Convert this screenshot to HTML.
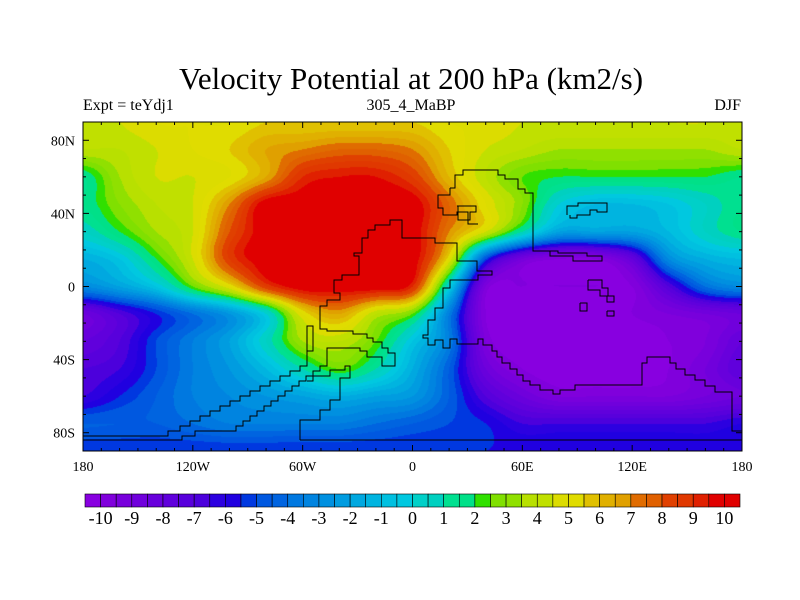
<!DOCTYPE html>
<html><head><meta charset="utf-8">
<style>
body{margin:0;background:#fff;}
#wrap{position:relative;width:800px;height:600px;background:#fff;overflow:hidden;font-family:"Liberation Serif",serif;}
.t{position:absolute;white-space:nowrap;color:#000;}
</style></head>
<body>
<div id="wrap">
<div class="t" style="left:0;width:822px;text-align:center;top:61px;font-size:31px;">Velocity Potential at 200 hPa (km2/s)</div>
<div class="t" style="left:83px;top:97px;font-size:16px;">Expt = teYdj1</div>
<div class="t" style="left:311px;width:200px;text-align:center;top:97px;font-size:16px;">305_4_MaBP</div>
<div class="t" style="left:641px;width:100px;text-align:right;top:97px;font-size:16px;">DJF</div>
<canvas id="map" width="659" height="329" style="position:absolute;left:83px;top:122px;"></canvas>
<svg id="ov" width="800" height="600" style="position:absolute;left:0;top:0;"></svg>
</div>
<script>
const lons=[-180,-160,-140,-120,-100,-80,-60,-40,-20,0,20,40,60,80,100,120,140,160,180];
const lats=[90,75,60,45,30,15,0,-15,-30,-45,-60,-75,-90];
const row90=[4,4.5,5,5,5,5.5,5.5,5.5,5.5,5.5,5,5,4.5,4.5,4.5,4.5,4.5,4.5,4];
const row75=[4,4,4.5,5,5.5,6.5,7,7.5,7.5,7,5.5,4.5,4,3.5,3.5,3.5,3.5,3.5,4];
const row60=[1.5,3.5,4.5,4.5,5,6.5,9,9.5,9.5,8.5,6,4,2.5,2,2,2,2,2,1.5];
const row45=[1.5,3,4,4.5,7,10,10,10,10,10,7.5,5,3,0,-1,-1,-0.5,0.5,1.5];
const row30=[0.5,2,3.5,4.5,8,10,10,10,10,10,7,4.5,1,-2,-2,-2,-1,0.5,1.5];
const row15=[-1.5,-0.5,2,4.5,8.5,10,10,10,10,10,5,-5,-9,-10,-10,-8,-3,-1.5,-1];
const row0=[-3,-2,-0.5,2.5,5,8.5,10,10,10,9,0,-9.5,-10,-10,-10,-10,-7,-4,-3];
const rowS15=[-8.5,-7,-5.5,-4,-2.5,0,5,6.5,4,2.5,-3.5,-10,-10.5,-10.5,-10.5,-10,-9.5,-9,-8.5];
const rowS30=[-8,-7,-5,-3.5,-2,0.5,3.5,4,2.5,-0.5,-3.5,-9.5,-10.5,-10.5,-10.5,-10.5,-10,-9.5,-8];
const rowS45=[-7,-6.5,-5,-3.5,-2.5,-1,1,2.5,1,-1.5,-4.5,-8.5,-10,-10.5,-10.5,-10.5,-10,-9,-7.5];
const rowS60=[-6.5,-5.5,-4.5,-3.5,-3,-2.5,-2,-1.5,-2,-2.5,-4.5,-7,-8.5,-9.5,-9.5,-9.5,-9.5,-9,-8.5];
const rowS75=[-4.5,-4.5,-4.5,-4,-3.5,-3.5,-3.5,-3.5,-4,-4.5,-5,-5.5,-6.5,-6.5,-6.5,-6.5,-6.5,-6.5,-6];
const rowS90=[-5.5,-5.5,-5.5,-5.5,-5.5,-5.5,-5.5,-5.5,-5.5,-5.5,-5.5,-5.5,-5.5,-5.5,-5.5,-5.5,-5.5,-5.5,-5.5];
const grid=[row90,row75,row60,row45,row30,row15,row0,rowS15,rowS30,rowS45,rowS60,rowS75,rowS90];
const levels=[];for(let i=0;i<=40;i++)levels.push(-10+i*0.5);
const palette=["#8800e0","#8000dc","#7800dc","#7000dc","#6800dc","#6000dc","#5800dc","#4c00dc","#2c00e0","#2000e0","#0038e0","#0058e0","#0064e0","#0078e0","#0084e0","#0090e0","#009ce0","#00a8e0","#00b4e0","#00c0e0","#00c8e0","#00d0c8","#00d0c0","#00e090","#00e088","#30e000","#80e000","#90e000","#b8e000","#c0e000","#dcdc00","#e0dc00","#e0c000","#e0b000","#e0a000","#e06c00","#e06000","#e04000","#e03800","#e02000","#e00000","#e00000"];
const cbTicks=[-10,-9,-8,-7,-6,-5,-4,-3,-2,-1,0,1,2,3,4,5,6,7,8,9,10];
const lonTicks=[-180,-120,-60,0,60,120,180];
const lonLabels=["180","120W","60W","0","60E","120E","180"];
const latTicks=[80,40,0,-40,-80];
const latLabels=["80N","40N","0","40S","80S"];

const X0=83,X1=742,Y0=122,Y1=451;
const xOf=lon=>X0+(lon+180)/360*(X1-X0);
const yOf=lat=>Y0+(90-lat)/180*(Y1-Y0);
function cr(p0,p1,p2,p3,t){return 0.5*((2*p1)+(-p0+p2)*t+(2*p0-5*p1+4*p2-p3)*t*t+(-p0+3*p1-3*p2+p3)*t*t*t);}
function val(lon,lat){
 const fi=(lon-lons[0])/(lons[1]-lons[0]);const fj=(lats[0]-lat)/(lats[0]-lats[1]);
 const i=Math.min(Math.floor(fi),lons.length-2),j=Math.min(Math.floor(fj),lats.length-2);
 const tx=fi-i,ty=fj-j;const ci=k=>Math.max(0,Math.min(lons.length-1,k));const cj=k=>Math.max(0,Math.min(lats.length-1,k));
 const r=[];for(let m=-1;m<=2;m++){const g=grid[cj(j+m)];r.push(cr(g[ci(i-1)],g[ci(i)],g[ci(i+1)],g[ci(i+2)],tx));}
 return cr(r[0],r[1],r[2],r[3],ty);
}
function colorOf(v){let k=0;while(k<levels.length&&v>=levels[k])k++;return palette[k];}
const cv=document.getElementById('map');const ctx=cv.getContext('2d');
const W=cv.width,H=cv.height;
for(let py=0;py<H;py++){for(let px=0;px<W;px++){
 const lon=-180+(px+0.5)/W*360,lat=90-(py+0.5)/H*180;
 ctx.fillStyle=colorOf(val(lon,lat));ctx.fillRect(px,py,1,1);}}

const NS='http://www.w3.org/2000/svg';const svg=document.getElementById('ov');
function mk(tag,at){const e=document.createElementNS(NS,tag);for(const k in at)e.setAttribute(k,at[k]);svg.appendChild(e);return e;}
const coasts=[
"420,238 402,238 402,220 390,220 390,225 375,225 375,230 368,230 368,238 362,238 362,253 354,253 354,256 359,256 359,275 342,275 342,280 334,280 334,293 340,293 340,300 327,300 327,306 320,306 320,329 327,329 327,331 353,331 353,334 367,334 367,338 373,338 373,342 382,342 382,348 388,348 388,353 395,353 395,366 382,366 382,357 367,357 367,351 360,351 360,348 327,348 327,366 320,366 320,371 313,371 313,376 306,376 306,381 299,381 299,386 292,386 292,391 285,391 285,396 278,396 278,401 271,401 271,406 264,406 264,411 257,411 257,416 250,416 250,421 243,421 243,426 236,426 236,431 195,431 195,436 182,436 182,440 83,440",
"83,431 83,436 168,436 168,431 180,431 180,426 190,426 190,421 200,421 200,416 210,416 210,411 220,411 220,406 230,406 230,401 240,401 240,396 250,396 250,391 260,391 260,386 270,386 270,381 280,381 280,376 290,376 290,371 300,371 300,366 307,366 307,351 313,351 313,326 307,326 307,351",
"307,381 313,381 313,376 330,376 330,370 345,370 345,366 350,366 350,378 340,378 340,400 330,400 330,410 320,410 320,420 300,420 300,430 300,440",
"300,440 742,440",
"420,238 435,238 435,243 457,243 457,261 477,261 477,271 492,271 492,275 478,275 478,280 450,280 450,288 443,288 443,308 435,308 435,320 428,320 428,335 423,335 423,338 428,338 428,345 435,345 435,340 443,340 443,348 450,348 450,339 457,339 457,344 478,344 478,339 483,339 483,345 492,345 492,351 497,351 497,357 502,357 502,363 510,363 510,369 517,369 517,375 523,375 523,381 530,381 530,385 540,385 540,390 553,390 553,394 560,394 560,390 575,390 575,385 642,385 642,363 647,363 647,357 670,357 670,363 676,363 676,369 685,369 685,375 695,375 695,380 705,380 705,386 715,386 715,392 732,392 732,431 742,431",
"450,188 455,188 455,175 463,175 463,170 498,170 498,175 505,175 505,179 518,179 518,189 525,189 525,193 533,193 533,251 558,251 558,253 587,253 587,256 602,256 602,261 573,261 573,256 550,256 550,251 535,251",
"450,188 450,195 438,195 438,208 443,208 443,215 457,215 457,212 468,212 468,224 478,224",
"457,206 476,206 476,212 470,212 470,220 458,220 458,206",
"567,215 567,206 578,206 578,203 607,203 607,212 597,212 597,210 590,210 590,215 577,215 577,218 570,218 570,215",
"588,280 602,280 602,288 608,288 608,296 614,296 614,302 607,302 607,296 600,296 600,290 588,290 588,280",
"580,303 587,303 587,311 580,311 580,303",
"607,311 614,311 614,316 607,316 607,311"
];
coasts.forEach((p,i)=>{const e=mk('polyline',{points:p,fill:'none',stroke:'#000','stroke-width':1});

});
const fr=mk('rect',{x:X0,y:Y0,width:X1-X0,height:Y1-Y0,fill:'none',stroke:'#000','stroke-width':1});


for(let lon=-180;lon<=180;lon+=10){const x=xOf(lon);const L=(lon%60===0)?6:3;
 mk('line',{x1:x,y1:Y0,x2:x,y2:Y0+L,stroke:'#000'});mk('line',{x1:x,y1:Y1,x2:x,y2:Y1-L,stroke:'#000'});}
for(let lat=-90;lat<=90;lat+=10){const y=yOf(lat);const L=(lat%40===0)?6:3;
 mk('line',{x1:X0,y1:y,x2:X0+L,y2:y,stroke:'#000'});mk('line',{x1:X1,y1:y,x2:X1-L,y2:y,stroke:'#000'});}
lonTicks.forEach((lon,i)=>{const t=mk('text',{x:xOf(lon),y:471,'text-anchor':'middle','font-size':14,'font-family':'Liberation Serif, serif'});t.textContent=lonLabels[i];
 
 });
latTicks.forEach((lat,i)=>{const t=mk('text',{x:75,y:yOf(lat)+5,'text-anchor':'end','font-size':14,'font-family':'Liberation Serif, serif'});t.textContent=latLabels[i];
 
 });
const CB0=85,CB1=740,CBY=494,CBH=13;const bw=(CB1-CB0)/palette.length;
palette.forEach((c,i)=>{const r=mk('rect',{x:CB0+i*bw,y:CBY,width:bw,height:CBH,fill:c,stroke:'#000','stroke-width':0.6});
 
 });
cbTicks.forEach(v=>{const k=levels.indexOf(v);const t=mk('text',{x:CB0+(k+1)*bw,y:524,'text-anchor':'middle','font-size':18,'font-family':'Liberation Serif, serif'});t.textContent=String(v);
 
 });
</script>
</body></html>
